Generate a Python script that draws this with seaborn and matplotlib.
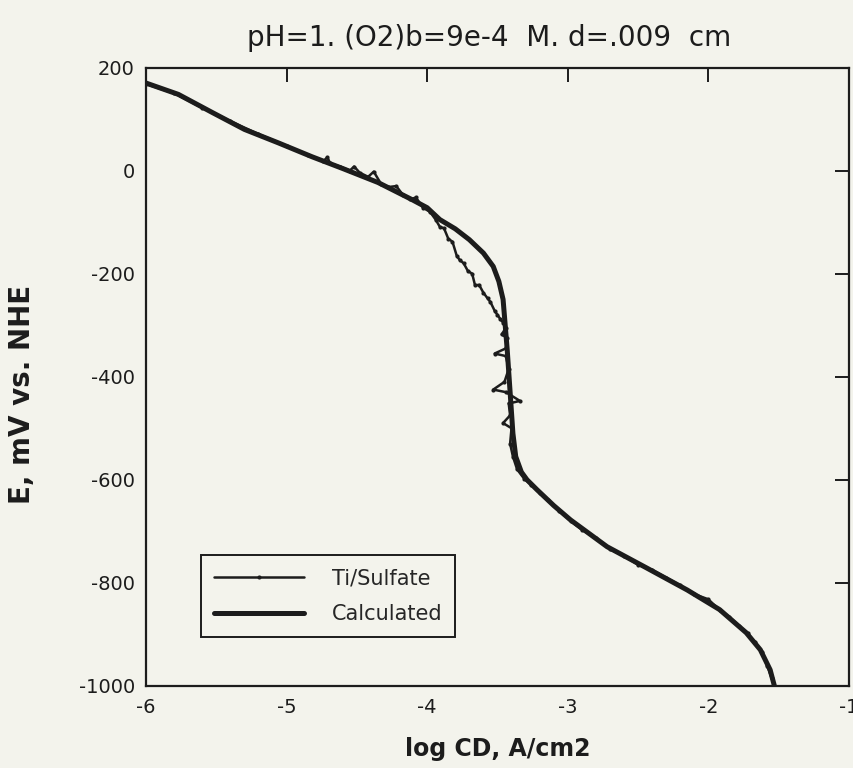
import matplotlib
matplotlib.use("Agg")
import matplotlib.pyplot as plt
import seaborn as sns
import pandas as pd
from matplotlib.ticker import FixedLocator, FixedFormatter

# ---- data ----
calc_x = [-6.00, -5.77, -5.53, -5.30, -5.06, -4.82, -4.60, -4.35, -4.11, -4.00, -3.91, -3.80,
          -3.70, -3.60, -3.53, -3.49, -3.46, -3.45, -3.43, -3.41, -3.39, -3.37, -3.33, -3.29,
          -3.22, -3.10, -2.98, -2.72, -2.44, -2.15, -1.92, -1.73, -1.63, -1.56, -1.53]
calc_y = [170, 148, 113, 80, 54, 27, 4, -23, -56, -72, -95, -113,
          -134, -160, -186, -215, -250, -283, -350, -430, -510, -555, -585, -600,
          -619, -650, -678, -730, -771, -814, -852, -897, -930, -969, -1000]

data_x = [-6.00, -5.80, -5.60, -5.40, -5.20, -5.00, -4.85, -4.74, -4.71, -4.69, -4.62, -4.55,
          -4.52, -4.48, -4.42, -4.38, -4.33, -4.28, -4.22, -4.17, -4.12, -4.08, -4.03, -3.98,
          -3.94, -3.91, -3.88, -3.85, -3.82, -3.79, -3.77, -3.74, -3.71, -3.68, -3.66, -3.63,
          -3.60, -3.57, -3.55, -3.52, -3.50, -3.48, -3.46, -3.44, -3.47, -3.43, -3.44, -3.52,
          -3.44, -3.42, -3.45, -3.53, -3.44, -3.34, -3.42, -3.41, -3.46, -3.40, -3.41, -3.39,
          -3.36, -3.31, -3.26, -3.20, -3.14, -3.06, -2.98, -2.90, -2.80, -2.70, -2.60, -2.50,
          -2.40, -2.30, -2.20, -2.10, -2.00, -1.92, -1.85, -1.78, -1.72, -1.67, -1.62, -1.58,
          -1.55]
data_y = [168, 150, 122, 96, 71, 48, 30, 18, 26, 14, 8, 0,
          8, -4, -12, -2, -25, -32, -30, -48, -56, -52, -72, -80,
          -95, -109, -112, -132, -138, -165, -173, -180, -195, -200, -222, -222,
          -237, -248, -255, -272, -280, -288, -295, -305, -318, -325, -345, -355,
          -360, -385, -410, -425, -430, -447, -452, -475, -490, -500, -530, -555,
          -580, -598, -610, -625, -640, -660, -680, -697, -713, -735, -748, -765,
          -775, -790, -805, -822, -832, -853, -866, -884, -898, -915, -935, -962,
          -985]

x_ticks = [-6, -5, -4, -3, -2, -1]
x_tick_labels = ["-6", "-5", "-4", "-3", "-2", "-1"]
y_ticks = [200, 0, -200, -400, -600, -800, -1000]
y_tick_labels = ["200", "0", "-200", "-400", "-600", "-800", "-1000"]

title = "pH=1. (O2)b=9e-4  M. d=.009  cm"
x_label = "log CD, A/cm2"
y_label = "E, mV vs. NHE"
series_names = ["Ti/Sulfate", "Calculated"]

# ---- plot ----
sns.set_theme(style="white")
plt.rcParams["font.family"] = ["DejaVu Sans"]
bg = "#f3f3ec"
ink = "#1c1c1c"

fig = plt.figure(figsize=(8.54, 7.68), dpi=100, facecolor=bg)
ax = fig.add_axes([0.171, 0.107, 0.823, 0.805], facecolor=bg)

df_data = pd.DataFrame({"x": data_x, "y": data_y})
df_calc = pd.DataFrame({"x": calc_x, "y": calc_y})

sns.lineplot(data=df_data, x="x", y="y", sort=False, estimator=None, ax=ax,
             color=ink, linewidth=1.8, marker="o", markersize=3, markeredgewidth=0,
             label=series_names[0])
sns.lineplot(data=df_calc, x="x", y="y", sort=False, estimator=None, ax=ax,
             color=ink, linewidth=3.6, label=series_names[1])

ax.set_xlim(-6, -1)
ax.set_ylim(-1000, 200)
ax.xaxis.set_major_locator(FixedLocator(x_ticks))
ax.xaxis.set_major_formatter(FixedFormatter(x_tick_labels))
ax.yaxis.set_major_locator(FixedLocator(y_ticks))
ax.yaxis.set_major_formatter(FixedFormatter(y_tick_labels))
ax.tick_params(direction="in", length=10, width=1.4, colors=ink, labelsize=14,
               top=True, right=True)
ax.tick_params(axis="x", pad=9)
ax.tick_params(axis="y", pad=8)
for s in ax.spines.values():
    s.set_color(ink)
    s.set_linewidth(1.6)
    s.set_visible(True)

ax.set_xlabel(x_label, fontsize=17, fontweight="bold", color=ink)
ax.xaxis.set_label_coords(0.5, -0.082)
ax.set_ylabel(y_label, fontsize=20, fontweight="bold", color=ink)
ax.yaxis.set_label_coords(-0.157, 0.472)
fig.text(0.573, 0.951, title, ha="center", va="center", fontsize=20, color=ink)

leg = ax.legend(loc="lower left", bbox_to_anchor=(0.078, 0.079), borderaxespad=0,
                fontsize=15, frameon=True, fancybox=False, handlelength=4.3,
                handletextpad=1.35, borderpad=0.63, labelspacing=0.74)
leg.get_frame().set_edgecolor(ink)
leg.get_frame().set_linewidth(1.4)
leg.get_frame().set_facecolor(bg)
leg.get_frame().set_alpha(1)

fig.savefig("out.png", dpi=100, facecolor=bg)
